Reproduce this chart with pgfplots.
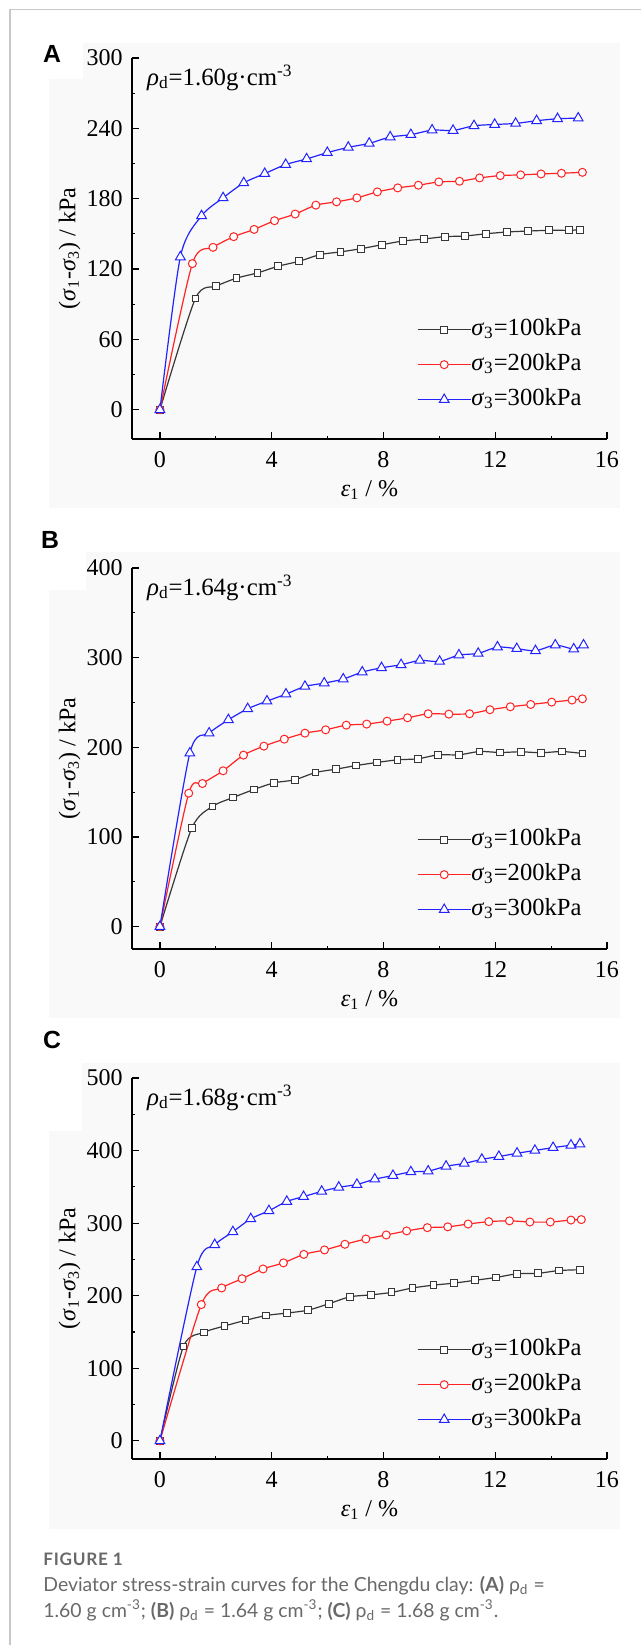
\documentclass[border=0pt]{standalone}
\usepackage{fontspec}
\setmainfont{Liberation Serif}
\newfontfamily\capfont{Lato}
\newfontfamily\letterfont{Liberation Sans}
\usepackage{pgfplots}
\pgfplotsset{compat=1.18}

\definecolor{sblack}{RGB}{55,55,55}
\definecolor{sred}{RGB}{255,35,35}
\definecolor{sblue}{RGB}{35,35,255}
\definecolor{panelbg}{RGB}{249,249,249}
\definecolor{framegray}{RGB}{200,200,200}
\definecolor{capgray}{RGB}{105,105,105}

\newcommand{\sig}{\textit{σ}}
\newcommand{\fs}{\fontsize{12}{12}\selectfont}

\pgfplotsset{
  panel/.style={
    scale only axis, width=237.5pt, height=190.5pt, anchor=south west,
    axis x line*=bottom, axis y line*=left,
    axis line style={line width=0.65pt, black},
    tick align=inside, major tick length=3.5pt, minor tick length=1.5pt,
    minor tick num=1, every tick/.style={black, line width=0.6pt},
    xmin=-1, xmax=16, xtick={0,4,...,16}, ymin=-25,
    /pgf/number format/assume math mode=true,
    ticklabel style={font=\fs},
    yticklabel style={inner sep=0pt, xshift=-4.5pt},
    xticklabel style={inner sep=0pt, yshift=-6pt},
    xlabel={\textit{ε}\textsubscript{1} / \%},
    ylabel={(\sig\textsubscript{1}-\sig\textsubscript{3}) / kPa},
    label style={font=\fs},
    xlabel style={at={(axis description cs:0.5,-0.134)}, anchor=center},
    ylabel style={at={(axis description cs:-0.1316,0.5)}, anchor=center},
    legend cell align=left,
    legend style={draw=none, fill=none, font=\fontsize{12.3}{12}\selectfont,
      at={(axis description cs:0.5994,0.334)}, anchor=north west,
      inner sep=0pt, row sep=0pt,
      nodes={inner ysep=2.5pt, inner xsep=0pt, text height=9pt, text depth=3.5pt}},
    /tikz/every even column/.append style={column sep=3.3pt},
    legend image code/.code={\draw[##1, mark repeat=2, mark phase=2]
      plot coordinates {(0pt,0pt) (13.25pt,0pt) (26.5pt,0pt)};},
    every axis plot/.append style={line width=0.6pt, smooth, tension=0.45},
  },
  s1/.style={color=sblack, mark=square*, mark size=1.7pt, mark options={fill=white, line width=0.5pt}},
  s2/.style={color=sred, mark=*, mark size=2pt, mark options={fill=white, line width=0.5pt}},
  s3/.style={color=sblue, mark=triangle*, mark size=2.8pt, mark options={fill=white, line width=0.5pt}},
}

\begin{document}
\begin{tikzpicture}
\begin{scope}[x=0.5pt,y=-0.5pt]
\path[use as bounding box] (0,0) rectangle (641,1645);
\fill[panelbg] (49,43) rectangle (620,508);
\fill[white] (49,43) rectangle (83,79);
\fill[panelbg] (49,552) rectangle (620,1018);
\fill[white] (49,552) rectangle (86,590);
\fill[panelbg] (49,1063) rectangle (620,1529);
\fill[white] (49,1063) rectangle (82,1131);
\draw[framegray, line width=0.6pt] (10,1645) -- (10,9.5) -- (641,9.5);
\node[font=\letterfont\bfseries\fontsize{12.4}{12}\selectfont] at (52,54) {A};
\node[font=\letterfont\bfseries\fontsize{12.4}{12}\selectfont] at (50,540) {B};
\node[font=\letterfont\bfseries\fontsize{12.4}{12}\selectfont] at (52,1040) {C};
\node[anchor=base west, inner sep=0pt, text=capgray, font=\capfont\bfseries\fontsize{8.6}{9}\selectfont\addfontfeatures{LetterSpace=4}] at (43,1565) {FIGURE 1};
\node[anchor=base west, inner sep=0pt, text=capgray, font=\capfont\fontsize{9.7}{11}\selectfont] at (43,1591)
  {Deviator stress-strain curves for the Chengdu clay: \textbf{(A)} ρ\textsubscript{d} =};
\node[anchor=base west, inner sep=0pt, text=capgray, font=\capfont\fontsize{9.7}{11}\selectfont] at (43,1617)
  {1.60 g cm\textsuperscript{-3}; \textbf{(B)} ρ\textsubscript{d} = 1.64 g cm\textsuperscript{-3}; \textbf{(C)} ρ\textsubscript{d} = 1.68 g cm\textsuperscript{-3}.};
\end{scope}

% Panel A
\begin{axis}[panel, at={(66pt,-219.5pt)}, ymax=300, ytick={0,60,...,300}]
\addplot[s1] coordinates {(0,0) (1.27,94.9) (2.02,105.4) (2.74,112.2) (3.49,116.7) (4.23,122.4) (4.98,126.6) (5.73,132.3) (6.46,134.6) (7.21,137.4) (7.96,140.8) (8.70,143.9) (9.45,145.6) (10.20,147.6) (10.92,148.2) (11.68,150.1) (12.42,151.6) (13.17,152.4) (13.92,153.0) (14.65,153.0) (15.02,153.5)};
\addplot[s2] coordinates {(0,0) (1.16,124.6) (1.90,138.5) (2.64,147.6) (3.37,153.8) (4.10,161.2) (4.84,166.9) (5.58,174.5) (6.32,177.3) (7.05,180.7) (7.78,185.8) (8.51,189.2) (9.25,191.5) (9.98,194.3) (10.72,194.9) (11.44,197.7) (12.18,199.7) (12.91,200.3) (13.64,201.1) (14.37,201.7) (15.12,202.5)};
\addplot[s3] coordinates {(0,0) (0.73,130.3) (1.49,165.4) (2.26,180.7) (3.00,193.5) (3.75,201.4) (4.50,209.1) (5.25,213.9) (5.99,219.3) (6.74,223.8) (7.49,227.2) (8.24,232.6) (8.98,234.6) (9.74,238.5) (10.49,238.2) (11.24,242.2) (11.98,243.3) (12.73,244.2) (13.48,246.5) (14.23,248.2) (14.97,248.7)};
\legend{\sig\textsubscript{3}=100kPa, \sig\textsubscript{3}=200kPa, \sig\textsubscript{3}=300kPa}
\node[anchor=base west, inner sep=0pt, font=\fontsize{12.4}{12}\selectfont] at (axis description cs:0.031,0.929) {\textit{ρ}\textsubscript{d}=1.60g·cm\textsuperscript{-3}};
\end{axis}

% Panel B
\begin{axis}[panel, at={(66pt,-474.5pt)}, ymax=400, ytick={0,100,...,400}]
\addplot[s1] coordinates {(0,0) (1.14,109.8) (1.88,134.0) (2.62,144.0) (3.36,152.9) (4.09,160.4) (4.82,163.7) (5.57,171.9) (6.30,175.6) (7.03,179.7) (7.77,183.1) (8.50,186.0) (9.23,187.2) (9.96,191.6) (10.70,191.6) (11.44,195.3) (12.18,194.2) (12.91,195.0) (13.64,193.9) (14.39,195.3) (15.12,193.1)};
\addplot[s2] coordinates {(0,0) (1.03,148.8) (1.52,159.6) (2.26,173.8) (2.99,191.3) (3.72,201.3) (4.45,209.1) (5.19,215.8) (5.93,219.5) (6.67,224.7) (7.40,225.9) (8.13,229.2) (8.86,232.9) (9.60,237.4) (10.34,237.0) (11.08,237.4) (11.81,241.9) (12.54,245.2) (13.27,247.8) (14.02,250.4) (14.75,252.7) (15.12,254.1)};
\addplot[s3] coordinates {(0,0) (1.07,193.5) (1.76,215.8) (2.45,230.7) (3.14,243.0) (3.83,251.5) (4.51,259.3) (5.19,267.9) (5.88,271.6) (6.56,276.1) (7.24,283.9) (7.93,288.7) (8.63,292.1) (9.30,296.9) (10.01,295.8) (10.70,302.9) (11.39,304.7) (12.08,311.8) (12.77,310.0) (13.44,307.7) (14.15,314.0) (14.81,309.6) (15.16,314.0)};
\legend{\sig\textsubscript{3}=100kPa, \sig\textsubscript{3}=200kPa, \sig\textsubscript{3}=300kPa}
\node[anchor=base west, inner sep=0pt, font=\fontsize{12.4}{12}\selectfont] at (axis description cs:0.031,0.929) {\textit{ρ}\textsubscript{d}=1.64g·cm\textsuperscript{-3}};
\end{axis}

% Panel C
\begin{axis}[panel, at={(66pt,-729.5pt)}, ymax=500, ytick={0,100,...,500}]
\addplot[s1] coordinates {(0,0) (0.84,130.1) (1.57,149.4) (2.31,158.3) (3.06,166.1) (3.81,172.8) (4.56,176.2) (5.30,180.1) (6.05,189.0) (6.80,198.5) (7.55,201.2) (8.29,204.6) (9.04,210.7) (9.79,214.6) (10.53,217.4) (11.28,221.3) (12.03,225.2) (12.78,230.2) (13.52,230.8) (14.27,234.7) (15.02,235.8)};
\addplot[s2] coordinates {(0,0) (1.48,187.8) (2.21,210.7) (2.94,223.5) (3.69,236.9) (4.42,245.3) (5.15,257.0) (5.89,263.1) (6.62,270.9) (7.37,278.2) (8.10,283.7) (8.83,289.3) (9.57,293.8) (10.30,294.9) (11.03,298.8) (11.77,302.1) (12.51,303.2) (13.24,301.6) (13.97,301.6) (14.71,304.3) (15.08,304.9)};
\addplot[s3] coordinates {(0,0) (1.32,239.7) (1.96,270.3) (2.61,288.1) (3.25,306.0) (3.90,317.1) (4.54,329.9) (5.14,336.6) (5.79,343.8) (6.40,349.4) (7.05,353.3) (7.69,360.6) (8.34,365.6) (8.98,370.6) (9.60,371.7) (10.24,378.4) (10.89,382.3) (11.52,387.9) (12.13,391.8) (12.78,396.3) (13.42,400.2) (14.07,404.1) (14.71,407.4) (15.03,409.1)};
\legend{\sig\textsubscript{3}=100kPa, \sig\textsubscript{3}=200kPa, \sig\textsubscript{3}=300kPa}
\node[anchor=base west, inner sep=0pt, font=\fontsize{12.4}{12}\selectfont] at (axis description cs:0.031,0.929) {\textit{ρ}\textsubscript{d}=1.68g·cm\textsuperscript{-3}};
\end{axis}
\end{tikzpicture}
\end{document}
